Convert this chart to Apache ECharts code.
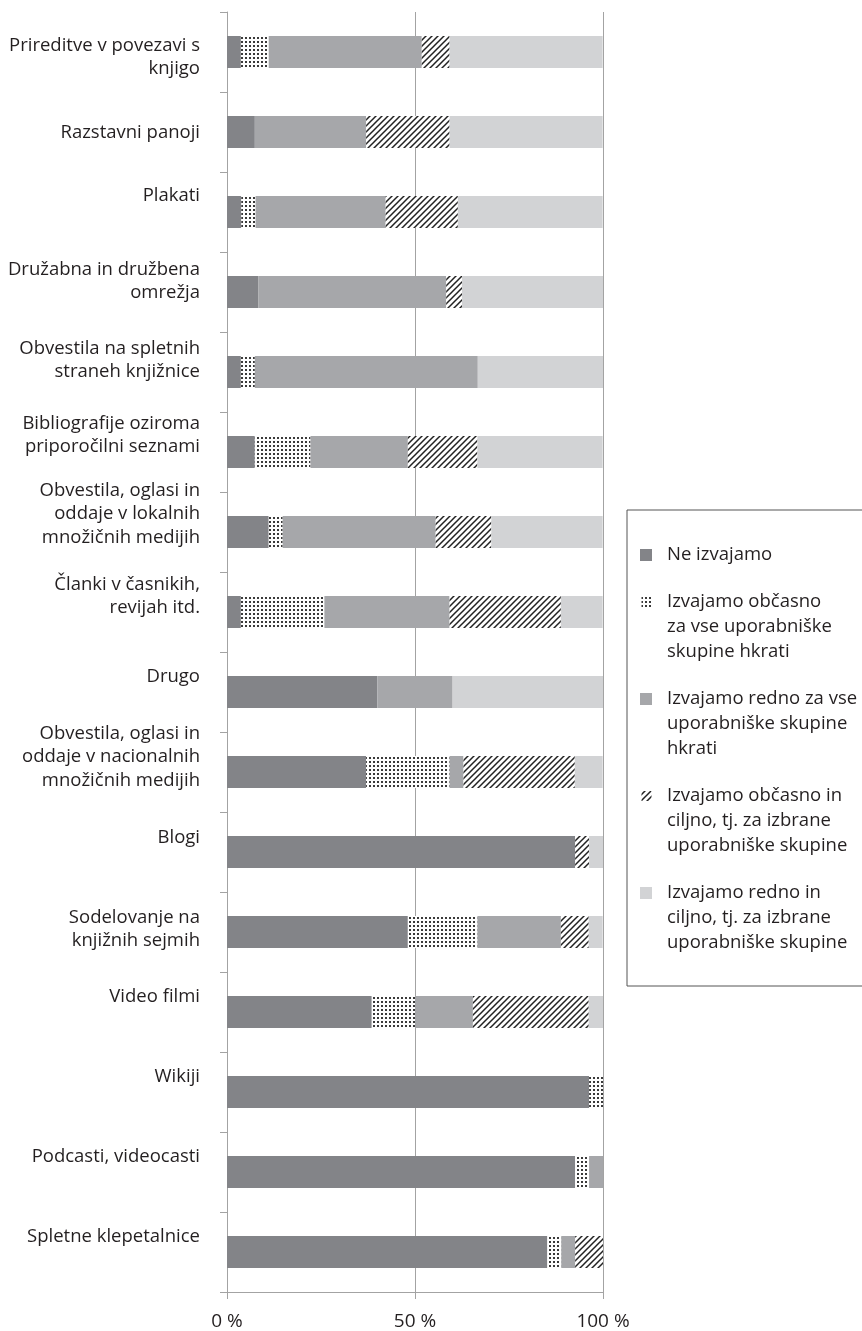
<!DOCTYPE html>
<html>
<head>
<meta charset="utf-8">
<script src="https://cdn.jsdelivr.net/npm/echarts@6.0.0/dist/echarts.min.js"></script>
<style>
html,body{margin:0;padding:0;background:#fff;}
#chart{width:862px;height:1331px;}
</style>
</head>
<body>
<div id="chart"></div>
<script>
// ---------- data ----------
const categories = [
  'Prireditve v povezavi s\nknjigo',
  'Razstavni panoji',
  'Plakati',
  'Družabna in družbena\nomrežja',
  'Obvestila na spletnih\nstraneh knjižnice',
  'Bibliografije oziroma\npriporočilni seznami',
  'Obvestila, oglasi in\noddaje v lokalnih\nmnožičnih medijih',
  'Članki v časnikih,\nrevijah itd.',
  'Drugo',
  'Obvestila, oglasi in\noddaje v nacionalnih\nmnožičnih medijih',
  'Blogi',
  'Sodelovanje na\nknjižnih sejmih',
  'Video filmi',
  'Wikiji',
  'Podcasti, videocasti',
  'Spletne klepetalnice'
];
const seriesNames = [
  'Ne izvajamo',
  'Izvajamo občasno\nza vse uporabniške\nskupine hkrati',
  'Izvajamo redno za vse\nuporabniške skupine\nhkrati',
  'Izvajamo občasno in\nciljno, tj. za izbrane\nuporabniške skupine',
  'Izvajamo redno in\nciljno, tj. za izbrane\nuporabniške skupine'
];
const neIzvajamo    = [3.7, 7.4, 3.8, 8.3, 3.7, 7.4, 11.1, 3.7, 40.0, 37.0, 92.6, 48.1, 38.5, 96.3, 92.6, 85.2];
const obcasnoVse    = [7.4, 0, 3.8, 0, 3.7, 14.8, 3.7, 22.2, 0, 22.2, 0, 18.5, 11.5, 3.7, 3.7, 3.7];
const rednoVse      = [40.7, 29.6, 34.6, 50.0, 59.3, 25.9, 40.7, 33.3, 20.0, 3.7, 0, 22.2, 15.4, 0, 3.7, 3.7];
const obcasnoCiljno = [7.4, 22.2, 19.2, 4.2, 0, 18.5, 14.8, 29.6, 0, 29.6, 3.7, 7.4, 30.8, 0, 0, 7.4];
const rednoCiljno   = [40.7, 40.7, 38.5, 37.5, 33.3, 33.3, 29.6, 11.1, 40.0, 7.4, 3.7, 3.7, 3.8, 0, 0, 0];
const xTicks = [0, 50, 100];

// ---------- styling helpers ----------
const FONT = "'Open Sans', sans-serif";
const TEXT = '#231f20';
const GRIDC = '#a3a3a3';

function dotPattern() {
  const c = document.createElement('canvas');
  c.width = 4; c.height = 4;
  const g = c.getContext('2d');
  g.fillStyle = '#ffffff'; g.fillRect(0, 0, 4, 4);
  g.fillStyle = '#3a3a3a'; g.fillRect(1, 1, 2, 2);
  return c;
}
function hatchPattern() {
  const s = 6;
  const c = document.createElement('canvas');
  c.width = s; c.height = s;
  const g = c.getContext('2d');
  g.fillStyle = '#ffffff'; g.fillRect(0, 0, s, s);
  g.strokeStyle = '#222222'; g.lineWidth = 1.5;
  g.beginPath();
  g.moveTo(-1, s + 1); g.lineTo(s + 1, -1);
  g.moveTo(-1, 1); g.lineTo(1, -1);
  g.moveTo(s - 1, s + 1); g.lineTo(s + 1, s - 1);
  g.stroke();
  return c;
}
const fills = [
  '#838488',
  { image: dotPattern(), repeat: 'repeat' },
  '#a6a7aa',
  { image: hatchPattern(), repeat: 'repeat' },
  '#d2d3d5'
];
const seriesData = [neIzvajamo, obcasnoVse, rednoVse, obcasnoCiljno, rednoCiljno];

// vertical nudges of category labels (px, + = down), as in the reference layout
const labelNudge = [5, 1, -16, -11, -12, -17, -18, -16, -15, -15, -14, -3, -15, -15, -15, -15];
const rich = { l: { fontSize: 18.5, lineHeight: 23.5, fontFamily: FONT, color: TEXT } };
labelNudge.forEach((d, i) => {
  rich['s' + i] = { fontSize: 2, lineHeight: Math.max(1, Math.abs(d) * 2) };
});

// legend icons: square at top of a tall box (aligned with first text line)
const iconTop = 'path://M0,0L12,0L12,12L0,12ZM0,62L0.01,62Z';
const iconTopSmall = 'path://M1,1L11,1L11,11L1,11ZM0,0L0.01,0ZM0,62L0.01,62Z';
const iconMid = 'path://M0,0L12,0L12,12L0,12Z';

const option = {
  animation: false,
  backgroundColor: '#ffffff',
  grid: { left: 227, right: 259, top: 12, bottom: 39, containLabel: false, outerBoundsMode: 'none' },
  legend: {
    orient: 'vertical',
    left: 627,
    top: 510,
    padding: [32.5, 80, 30.5, 13],
    itemGap: 22,
    itemWidth: 12,
    itemHeight: 62,
    selectedMode: false,
    borderColor: '#555555',
    borderWidth: 1,
    textStyle: { fontSize: 18.5, lineHeight: 25, fontFamily: FONT, color: TEXT, padding: [0, 0, 0, 10] },
    data: seriesNames.map((n, i) => ({
      name: n,
      icon: i === 0 ? iconMid : (i === 1 || i === 3 ? iconTopSmall : iconTop)
    }))
  },
  xAxis: {
    type: 'value',
    min: 0,
    max: 100,
    interval: 50,
    axisLine: { show: true, lineStyle: { color: GRIDC, width: 1 } },
    axisTick: { show: true, length: 7, lineStyle: { color: GRIDC } },
    splitLine: { show: true, lineStyle: { color: GRIDC, width: 1 } },
    axisLabel: {
      margin: 20,
      fontSize: 19,
      fontFamily: FONT,
      color: TEXT,
      formatter: v => (xTicks.indexOf(v) >= 0 ? v + ' %' : '')
    }
  },
  yAxis: {
    type: 'category',
    inverse: true,
    data: categories,
    axisLine: { show: true, lineStyle: { color: GRIDC, width: 1 } },
    axisTick: { show: true, length: 7, lineStyle: { color: GRIDC } },
    splitLine: { show: false },
    axisLabel: {
      interval: 0,
      margin: 27,
      align: 'right',
      rich: rich,
      formatter: (value, idx) => {
        const d = labelNudge[idx] || 0;
        const body = '{l|' + value + '}';
        if (d < 0) return body + '\n{s' + idx + '| }';
        if (d > 0) return '{s' + idx + '| }\n' + body;
        return body;
      }
    }
  },
  series: seriesNames.map((n, i) => ({
    name: n,
    type: 'bar',
    stack: 'total',
    barWidth: 32,
    data: seriesData[i],
    itemStyle: { color: fills[i] },
    emphasis: { disabled: true },
    silent: true
  }))
};

const chart = echarts.init(document.getElementById('chart'), null, { renderer: 'canvas' });
chart.setOption(option);
</script>
</body>
</html>
